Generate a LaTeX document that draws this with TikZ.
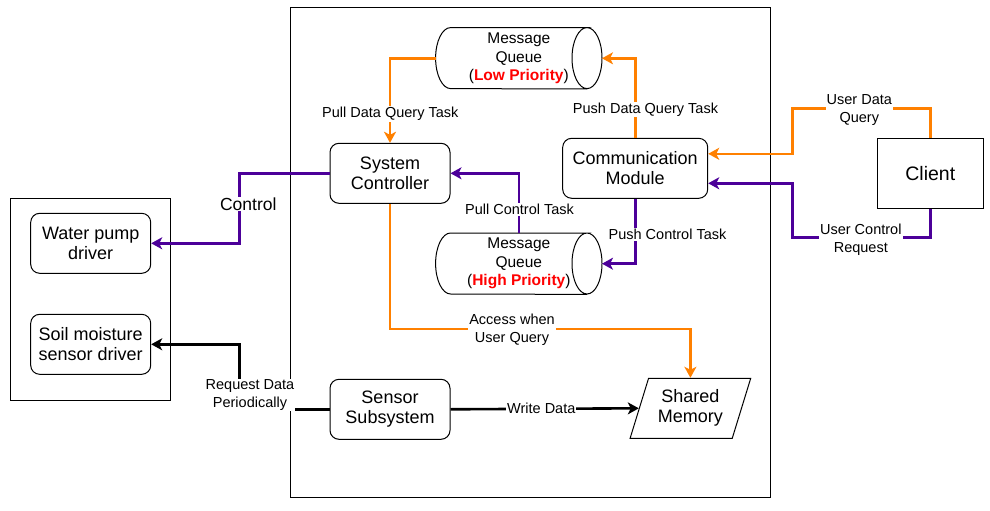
\documentclass[tikz,border=0pt]{standalone}
\usepackage{fontspec}
\setmainfont{Liberation Sans}
\usetikzlibrary{arrows.meta,shapes.geometric,positioning}

\definecolor{queryorange}{HTML}{FF8000}
\definecolor{ctrlpurple}{HTML}{4C0099}

\newcommand{\queueoutline}[1]{%
  \draw[line width=1pt] ([xshift=15pt]#1.north west) -- ([xshift=-15pt]#1.north east)
    arc[start angle=90,end angle=-270,x radius=15pt,y radius=30.5pt]
    -- ([xshift=15pt]#1.north west) arc[start angle=90,end angle=270,x radius=15pt,y radius=30.5pt]
    -- ([xshift=-15pt]#1.south east);}

\tikzset{
  block/.style={draw,rounded corners=9pt,line width=1pt,minimum width=120pt,minimum height=60pt,align=center,font=\fontsize{18}{20}\selectfont},
  queue/.style={minimum width=166pt,minimum height=61pt,inner sep=0pt,align=center,font=\fontsize{15.5}{18.5}\selectfont},
  link/.style={line width=2.6pt,-{Stealth[length=11pt,width=12pt,inset=3pt]}},
  datalink/.style={link,draw=queryorange},
  ctrllink/.style={link,draw=ctrlpurple},
  tag/.style={fill=white,inner sep=1pt,align=center,font=\fontsize{14.5}{17.5}\selectfont},
}

\begin{document}
\begin{tikzpicture}[x=1pt,y=-1pt]
\useasboundingbox (0,0) rectangle (990,511);
\node[draw,line width=1pt,minimum width=480pt,minimum height=489.7pt] (mcu) at (530,252.8) {};
\node[draw,line width=1pt,minimum width=160pt,minimum height=201.7pt] (drivers) at (90.7,299.2) {};
\node[block] (pump) at (90.7,243.3) {Water pump\\driver};
\node[block,below=40pt of pump] (soil) {Soil moisture\\sensor driver};
\node[block] (sysctl) at (390,173.3) {System\\Controller};
\node[block,below=175pt of sysctl] (sensor) {Sensor\\Subsystem};
\node[block,minimum width=145pt] (comm) at (635.2,168.3) {Communication\\Module};
\node[draw,line width=1pt,minimum width=106pt,minimum height=70pt,font=\fontsize{19.5}{22}\selectfont] (client) at (930.3,173.3) {Client};
\node[queue] (lowq) at (518.8,58.3) {Message\\Queue\\(\textcolor{red}{\textbf{Low Priority}})};
\node[queue,below=144pt of lowq] (highq) {Message\\Queue\\(\textcolor{red}{\textbf{High Priority}})};
\queueoutline{lowq}
\queueoutline{highq}
\node[draw,trapezium,trapezium left angle=70,trapezium right angle=110,trapezium stretches=true,minimum width=120.7pt,minimum height=60pt,line width=1pt,align=center,font=\fontsize{18}{20}\selectfont] (shmem) at (690.4,408.3) {Shared\\Memory};
\coordinate (querybend) at (792.3,108.3);
\coordinate (ctrlbend) at (792.3,237.7);

\draw[datalink] (comm.north) |- (lowq.east);
\draw[datalink] (lowq.west) -| (sysctl.north);
\draw[ctrllink] (comm.south) |- (highq.east);
\draw[ctrllink] (highq.north) |- (sysctl.east);
\draw[ctrllink] (sysctl.west) -- ++(-90,0) |- (pump.east);
\draw[link] (sensor.west) -- ++(-90,0) |- (soil.east);
\draw[link] (sensor.east) -- (shmem.left side);
\draw[datalink] (sysctl.south) -- ++(0,125) -| (shmem.north);
\draw[datalink] (client.north) |- (querybend) |- ([yshift=14.5pt]comm.east);
\draw[ctrllink] (client.south) |- (ctrlbend) |- ([yshift=-15pt]comm.east);

\node[tag] (pullq) at (390.3,114) {Pull Data Query Task};
\node[tag] (pushq) at (645.5,109.3) {Push Data Query Task};
\node[tag] (pullc) at (519.5,209.3) {Pull Control Task};
\node[tag] (pushc) at (667.5,234.3) {Push Control Task};
\node[tag,font=\fontsize{17.5}{20}\selectfont] (ctrltag) at (248.3,204) {Control};
\node[tag] (access) at (512,329.5) {Access when\\User Query};
\node[tag] (request) at (250,395) {Request Data\\Periodically};
\node[tag] (write) at (541.3,408.3) {Write Data};
\node[tag] (userq) at (859.3,110) {User Data\\Query};
\node[tag] (userc) at (860.8,239.7) {User Control\\Request};
\end{tikzpicture}
\end{document}
